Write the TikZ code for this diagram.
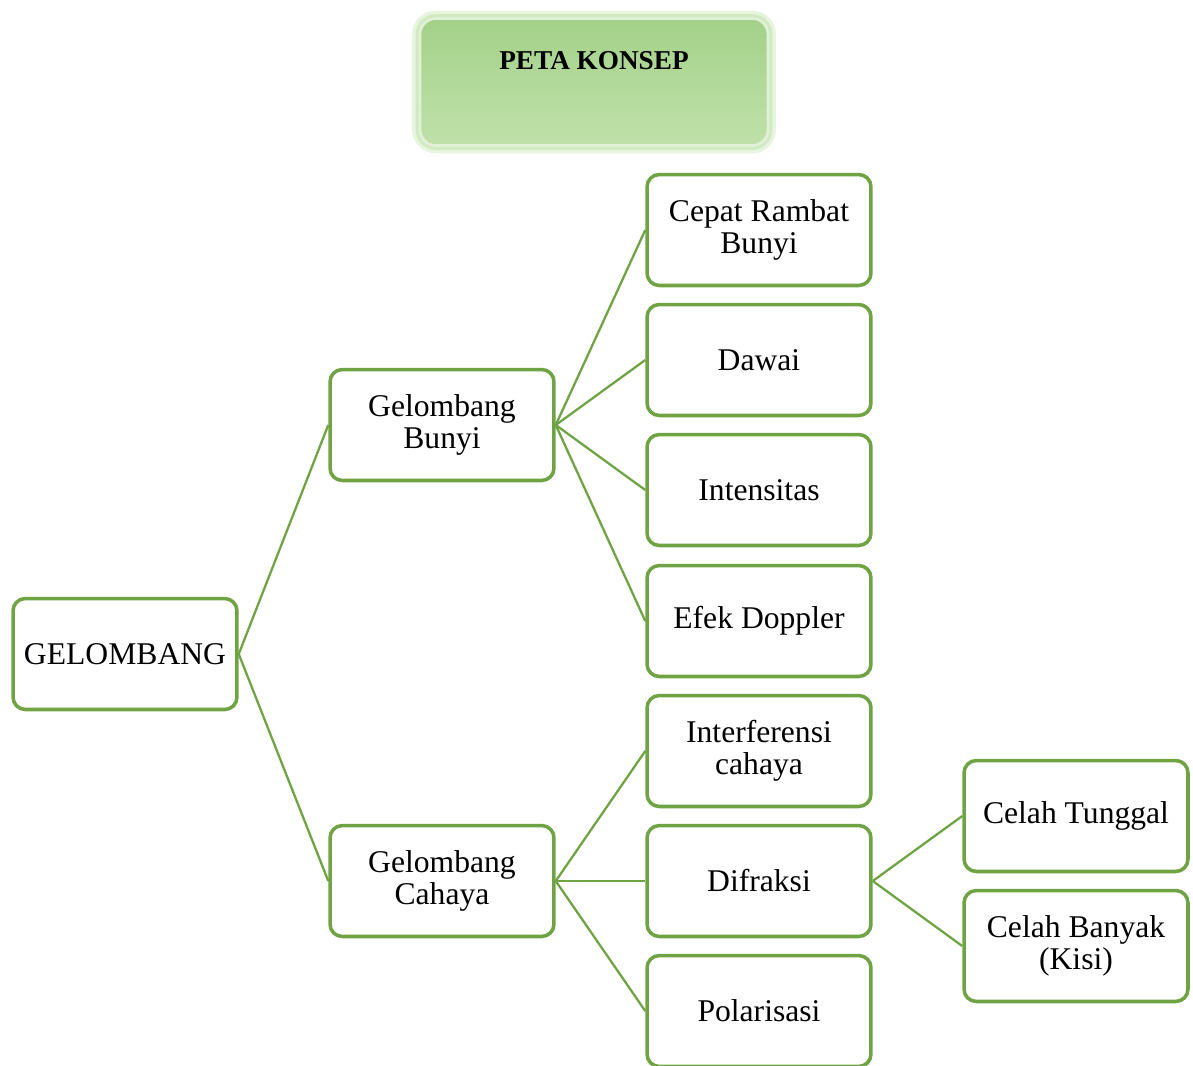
\documentclass[tikz,border=0pt]{standalone}
\usepackage{fontspec}
\setmainfont{Liberation Serif}
\usetikzlibrary{positioning}
\definecolor{boxgreen}{HTML}{6FA343}
\definecolor{glowgreen}{HTML}{C9E6B6}
\definecolor{headtop}{HTML}{A3D189}
\definecolor{headbot}{HTML}{C0E1AA}

\begin{document}
\begin{tikzpicture}[
    x=0.02cm, y=-0.02cm,
    concept/.style={rectangle, draw=boxgreen, line width=2pt,
                    rounded corners=7pt, fill=white,
                    minimum width=4.48cm, minimum height=2.22cm,
                    align=center, font=\fontsize{18}{18}\selectfont},
    heading/.style={rectangle, rounded corners=9pt,
                    top color=headtop, bottom color=headbot,
                    draw=white!45!glowgreen, line width=1.5pt,
                    preaction={draw=glowgreen, line width=9pt, opacity=0.45},
                    preaction={draw=glowgreen, line width=5pt, opacity=0.7},
                    minimum width=6.96cm, inner ysep=0.65cm,
                    text height=0.37cm, text depth=0.87cm,
                    font=\fontsize{15.5}{15.5}\selectfont\bfseries},
    link/.style={draw=boxgreen, line width=1.3pt}
]
\useasboundingbox (0,0) rectangle (1193,1065);
\clip (0,0) rectangle (1193,1065);

% title
\node[heading] (peta) at (594,82) {PETA KONSEP};

% main branches
\node[concept] (gel) at (125,654) {GELOMBANG};
\node[concept] (bunyi) at (442,425) {Gelombang\\Bunyi};
\node[concept] (cahaya) at (442,881) {Gelombang\\Cahaya};

% sound topics
\node[concept] (cepat) at (759,230) {Cepat Rambat\\Bunyi};
\node[concept] (dawai) at (759,360) {Dawai};
\node[concept] (intens) at (759,490) {Intensitas};
\node[concept] (doppler) at (759,621) {Efek Doppler};

% light topics
\node[concept] (interf) at (759,751) {Interferensi\\cahaya};
\node[concept] (difr) at (759,881) {Difraksi};
\node[concept] (polar) at (759,1011) {Polarisasi};

% diffraction topics
\node[concept] (tunggal) at (1076,816) {Celah Tunggal};
\node[concept] (banyak) at (1076,946) {Celah Banyak\\(Kisi)};

% connectors
\draw[link] (gel.east) -- (bunyi.west);
\draw[link] (gel.east) -- (cahaya.west);
\foreach \c in {cepat,dawai,intens,doppler}
    \draw[link] (bunyi.east) -- (\c.west);
\foreach \c in {interf,difr,polar}
    \draw[link] (cahaya.east) -- (\c.west);
\foreach \c in {tunggal,banyak}
    \draw[link] (difr.east) -- (\c.west);

\end{tikzpicture}
\end{document}
